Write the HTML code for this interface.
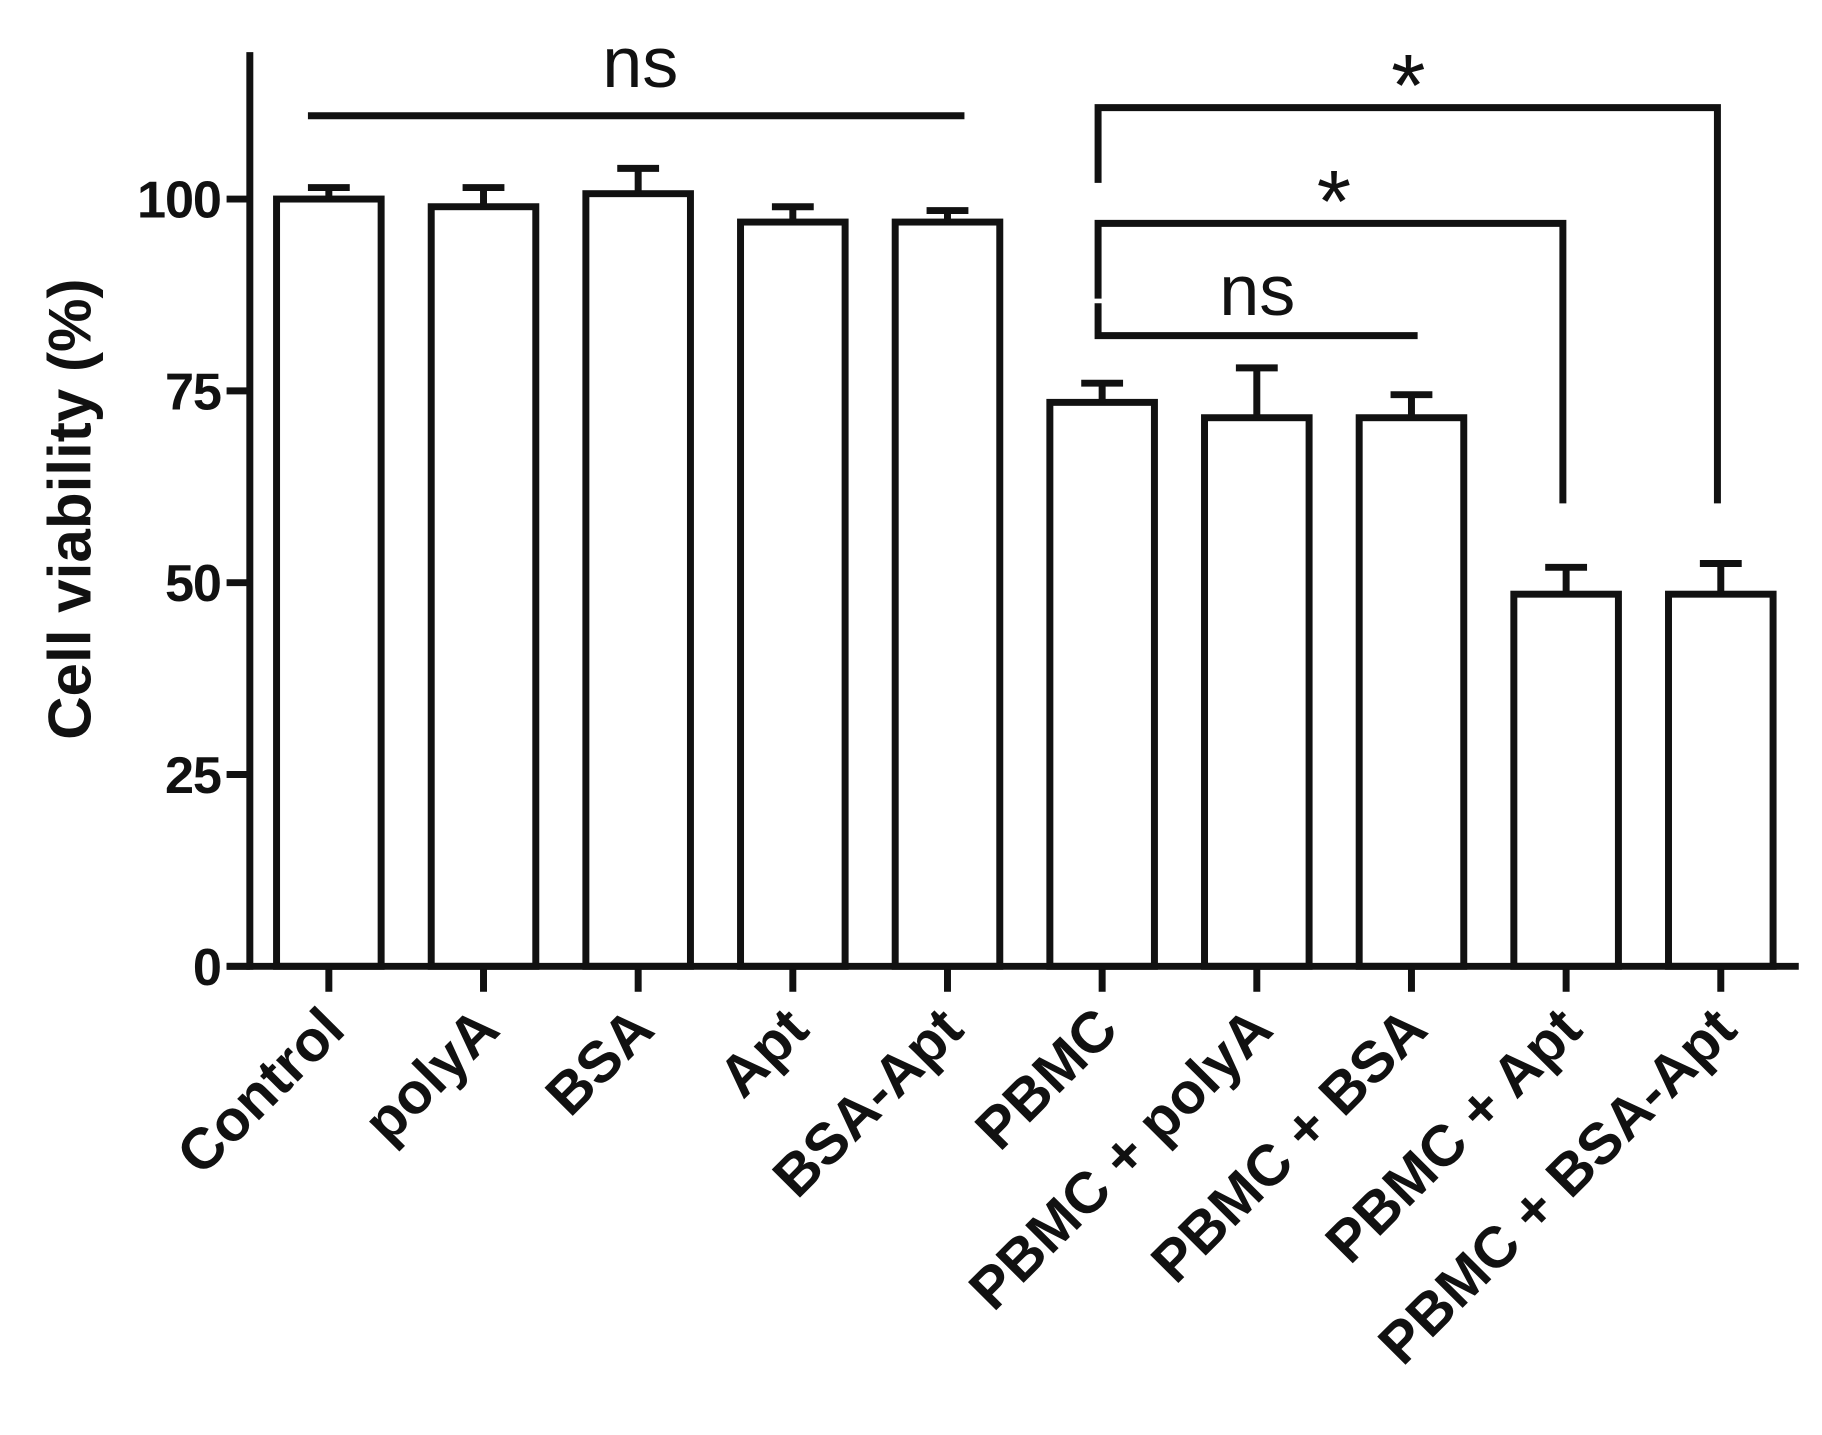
<!DOCTYPE html>
<html><head><meta charset="utf-8"><style>
html,body{margin:0;padding:0;background:#fff;}
svg{display:block;}
text{font-family:"Liberation Sans",Arial,sans-serif;fill:#111;}
</style></head><body>
<svg id="chart" width="1822" height="1435" viewBox="0 0 1568 1240" preserveAspectRatio="none" xmlns="http://www.w3.org/2000/svg">
<g id="plot"></g>
</svg>
<script>
const categories = ["Control","polyA","BSA","Apt","BSA-Apt","PBMC","PBMC + polyA","PBMC + BSA","PBMC + Apt","PBMC + BSA-Apt"];
const values = [100, 99, 100.7, 97, 97, 73.5, 71.5, 71.5, 48.5, 48.5];
const errTops = [101.5, 101.5, 104, 99, 98.5, 76, 78, 74.5, 52, 52.5];
const yTicks = [0, 25, 50, 75, 100];
const yTickLabels = ["0","25","50","75","100"];

const NS = "http://www.w3.org/2000/svg";
const g = document.getElementById('plot');
const x0 = 283, step = 133.1, barW = 90;
const yBase = 835, pxPer = 165.75/25;
const xPos = i => x0 + i*step;
const yPos = v => yBase - v*pxPer;
function el(tag, attrs, parent){
  const e = document.createElementNS(NS, tag);
  for (const k in attrs) e.setAttribute(k, attrs[k]);
  (parent||g).appendChild(e);
  return e;
}
const S = {stroke:"#111","stroke-width":6,fill:"none"};

categories.forEach((c,i)=>{
  const cx = xPos(i);
  const b = el('rect', {x:cx-barW/2, y:yPos(values[i]), width:barW, height:yBase-yPos(values[i]), fill:"#fff", stroke:"#111","stroke-width":6});
  
  
  const e1 = el('line', {x1:cx, x2:cx, y1:yPos(values[i]), y2:yPos(errTops[i]), ...S});
  
  
  const e2 = el('line', {x1:cx-18, x2:cx+18, y1:yPos(errTops[i]), y2:yPos(errTops[i]), ...S});
  
  
  const t = el('line', {x1:cx, x2:cx, y1:yBase, y2:yBase+22, ...S});
  
  
  const lx = cx + 16, ly = 892;
  const lab = el('text', {x:lx, y:ly, "text-anchor":"end","font-size":50,"font-weight":"bold", transform:`rotate(-45 ${lx} ${ly})`});
  lab.textContent = c;
  
  
});

const ya = el('line', {x1:215, x2:215, y1:45, y2:yBase+3, ...S});


const xa = el('line', {x1:195, x2:1548, y1:yBase, y2:yBase, ...S});


yTicks.forEach((v,i)=>{
  const t = el('line', {x1:195, x2:215, y1:yPos(v), y2:yPos(v), ...S});
  
  
  const l = el('text', {x:190, y:yPos(v)+16, "text-anchor":"end","font-size":45,"font-weight":"bold", "letter-spacing":-1});
  l.textContent = yTickLabels[i];
  
  
});
const yt = el('text', {x:78, y:440, "text-anchor":"middle","font-size":52,"font-weight":"bold", transform:"rotate(-90 78 440)"});
yt.textContent = "Cell viability (%)";



function path(d, name){
  const p = el('path', {d, ...S});
  
  
}
function label(txt, x, y, size, name){
  const t = el('text', {x, y, "text-anchor":"middle","font-size":size});
  t.textContent = txt;
  
  
}
path("M265 100 H830", "ns-bracket-left");
label("ns", 551, 75, 62, "ns-label-left");
path("M945 158 V93 H1478 V435", "star-bracket-top");
label("*", 1212, 100, 76, "star-label-top");
path("M945 258 V193 H1345 V435", "star-bracket-middle");
label("*", 1148, 200, 76, "star-label-middle");
path("M945 262 V290 H1220", "ns-bracket-right");
label("ns", 1082, 272, 62, "ns-label-right");
</script>
</body></html>
